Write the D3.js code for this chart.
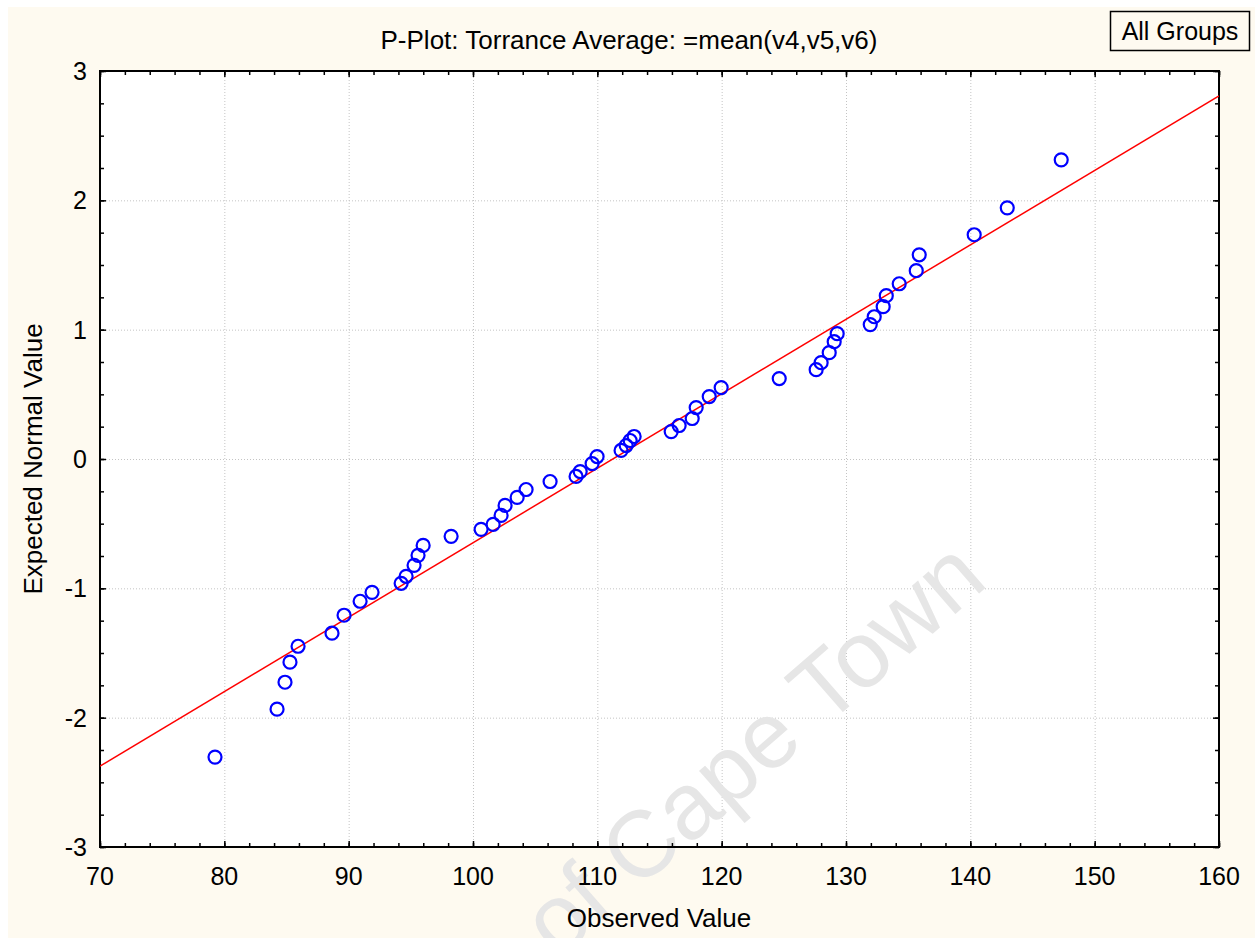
<!DOCTYPE html>
<meta charset="utf-8">
<script src="https://d3js.org/d3.v7.min.js"></script>
<html>
<head>
<style>
body { margin: 0; background: #ffffff; }
text { font-family: "Liberation Sans", Arial, sans-serif; }
</style>
</head>
<body>
<svg id="chart" width="1255" height="938"></svg>
<script>

var observed = [79.25, 84.24, 84.88, 85.28, 85.93, 88.66, 89.63, 90.92, 91.88, 94.22,
  94.62, 95.26, 95.58, 95.99, 98.24, 100.65, 101.62, 102.26, 102.58, 103.55,
  104.27, 106.2, 108.29, 108.62, 109.58, 109.98, 111.91, 112.32, 112.64, 112.96,
  115.94, 116.58, 117.63, 117.95, 119.0, 119.96, 124.63, 127.6, 128.0, 128.65,
  129.05, 129.29, 131.95, 132.27, 132.99, 133.24, 134.28, 135.65, 135.89, 140.31,
  142.97, 147.31];
var expected = [-2.305, -1.934, -1.726, -1.571, -1.448, -1.347, -1.208, -1.1, -1.031, -0.961,
  -0.907, -0.822, -0.745, -0.668, -0.598, -0.544, -0.506, -0.436, -0.359, -0.297,
  -0.236, -0.174, -0.135, -0.097, -0.035, 0.019, 0.066, 0.104, 0.143, 0.174,
  0.212, 0.259, 0.313, 0.398, 0.483, 0.552, 0.622, 0.691, 0.745, 0.822,
  0.907, 0.969, 1.039, 1.1, 1.178, 1.263, 1.355, 1.456, 1.579, 1.734,
  1.942, 2.313];

// fitted normal line end points
var lineX = [70, 160];
var lineY = [-2.375, 2.807];

var xTicks = [70, 80, 90, 100, 110, 120, 130, 140, 150, 160];
var yTicks = [-3, -2, -1, 0, 1, 2, 3];

var svg = d3.select("#chart");

// cream page background
svg.append("rect")
  .attr("x", 8).attr("y", 7)
  .attr("width", 1247).attr("height", 931)
  .attr("fill", "#fefaf0");

var plotLeft = 100, plotRight = 1219, plotTop = 71, plotBottom = 847;

var x = d3.scaleLinear().domain([70, 160]).range([plotLeft, plotRight]);
var y = d3.scaleLinear().domain([-3, 3]).range([plotBottom, plotTop]);

// plot area
svg.append("rect")
  .attr("x", plotLeft).attr("y", plotTop)
  .attr("width", plotRight - plotLeft).attr("height", plotBottom - plotTop)
  .attr("fill", "#ffffff");

// grid
var grid = svg.append("g")
  .attr("stroke", "#c4c4c4")
  .attr("stroke-width", 1)
  .attr("stroke-dasharray", "1,2");
grid.selectAll(".gx")
  .data(xTicks.slice(1, -1))
  .enter().append("line")
    .attr("x1", function(d){ return x(d) + 0.5 })
    .attr("x2", function(d){ return x(d) + 0.5 })
    .attr("y1", plotTop).attr("y2", plotBottom);
grid.selectAll(".gy")
  .data(yTicks.slice(1, -1))
  .enter().append("line")
    .attr("y1", function(d){ return y(d) + 0.5 })
    .attr("y2", function(d){ return y(d) + 0.5 })
    .attr("x1", plotLeft).attr("x2", plotRight);

// watermark
svg.append("text")
  .attr("transform", "translate(990,584) rotate(-41)")
  .attr("text-anchor", "end")
  .attr("font-size", 94)
  .attr("fill", "#e6e6e6")
  .text("University of Cape Town");

// axes with inward ticks on all four sides
var xMinor = d3.range(70, 160.1, 2);
var yMinor = d3.range(-3, 3.01, 0.25);

function axisGroup(axis, tx, ty) {
  var g = svg.append("g")
    .attr("transform", "translate(" + tx + "," + ty + ")")
    .call(axis);
  g.select(".domain").remove();
  g.selectAll("line").attr("stroke", "#000").attr("stroke-width", 1.5);
  return g;
}

axisGroup(d3.axisTop(x).tickValues(xMinor).tickSize(4).tickFormat(""), 0, plotBottom);
axisGroup(d3.axisBottom(x).tickValues(xMinor).tickSize(4).tickFormat(""), 0, plotTop);
axisGroup(d3.axisRight(y).tickValues(yMinor).tickSize(4).tickFormat(""), plotLeft, 0);
axisGroup(d3.axisLeft(y).tickValues(yMinor).tickSize(4).tickFormat(""), plotRight, 0);
axisGroup(d3.axisTop(x).tickValues(xTicks).tickSize(6).tickFormat(""), 0, plotBottom);
axisGroup(d3.axisBottom(x).tickValues(xTicks).tickSize(6).tickFormat(""), 0, plotTop);
axisGroup(d3.axisRight(y).tickValues(yTicks).tickSize(6).tickFormat(""), plotLeft, 0);
axisGroup(d3.axisLeft(y).tickValues(yTicks).tickSize(6).tickFormat(""), plotRight, 0);

// tick labels
svg.append("g").selectAll("text")
  .data(xTicks)
  .enter().append("text")
    .attr("x", function(d){ return x(d) })
    .attr("y", 885)
    .attr("text-anchor", "middle")
    .attr("font-size", 25)
    .text(function(d){ return d });

svg.append("g").selectAll("text")
  .data(yTicks)
  .enter().append("text")
    .attr("x", 87)
    .attr("y", function(d){ return y(d) + 9 })
    .attr("text-anchor", "end")
    .attr("font-size", 25)
    .text(function(d){ return d });

// frame
svg.append("rect")
  .attr("x", plotLeft).attr("y", plotTop)
  .attr("width", plotRight - plotLeft).attr("height", plotBottom - plotTop)
  .attr("fill", "none")
  .attr("stroke", "#000")
  .attr("stroke-width", 2);

// fitted line
svg.append("clipPath").attr("id", "clip")
  .append("rect")
  .attr("x", plotLeft).attr("y", plotTop)
  .attr("width", plotRight - plotLeft).attr("height", plotBottom - plotTop);

svg.append("path")
  .datum(d3.zip(lineX, lineY))
  .attr("clip-path", "url(#clip)")
  .attr("fill", "none")
  .attr("stroke", "#ff0000")
  .attr("stroke-width", 1.5)
  .attr("d", d3.line()
    .x(function(d){ return x(d[0]) })
    .y(function(d){ return y(d[1]) }));

// points
svg.append("g").selectAll("circle")
  .data(d3.zip(observed, expected))
  .enter().append("circle")
    .attr("cx", function(d){ return x(d[0]) })
    .attr("cy", function(d){ return y(d[1]) })
    .attr("r", 6.5)
    .attr("fill", "none")
    .attr("stroke", "#0000ff")
    .attr("stroke-width", 2.2);

// title and axis labels
svg.append("text")
  .attr("x", 629).attr("y", 49)
  .attr("text-anchor", "middle")
  .attr("font-size", 26)
  .text("P-Plot: Torrance Average: =mean(v4,v5,v6)");

svg.append("text")
  .attr("x", 659).attr("y", 927)
  .attr("text-anchor", "middle")
  .attr("font-size", 26)
  .text("Observed Value");

svg.append("text")
  .attr("transform", "translate(42,459) rotate(-90)")
  .attr("text-anchor", "middle")
  .attr("font-size", 26)
  .text("Expected Normal Value");

// legend box
svg.append("rect")
  .attr("x", 1110.5).attr("y", 11.5)
  .attr("width", 139).attr("height", 39)
  .attr("fill", "none")
  .attr("stroke", "#000")
  .attr("stroke-width", 1.5);
svg.append("text")
  .attr("x", 1180).attr("y", 40)
  .attr("text-anchor", "middle")
  .attr("font-size", 25)
  .text("All Groups");

</script>
</body>
</html>
